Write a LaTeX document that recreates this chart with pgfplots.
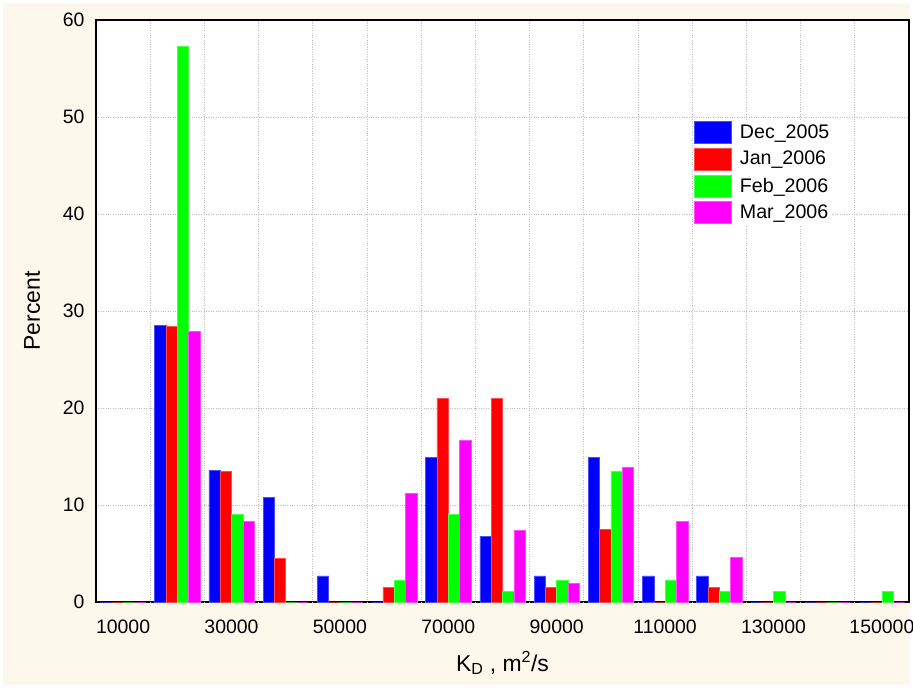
\documentclass[border=0pt]{standalone}
\usepackage{fontspec}
\setmainfont{Liberation Sans}
\usepackage{pgfplots}
\pgfplotsset{compat=1.18}
\definecolor{cream}{RGB}{253,248,236}
\definecolor{gridgray}{RGB}{190,190,190}
\definecolor{cblue}{RGB}{0,0,255}
\definecolor{cred}{RGB}{255,0,0}
\definecolor{cgreen}{RGB}{0,255,0}
\definecolor{cmag}{RGB}{255,0,255}
\begin{document}
\begin{tikzpicture}
\fill[white] (-96bp,-86bp) rectangle (817bp,602bp);
\fill[cream] (-93bp,-83bp) rectangle (814bp,599bp);
\begin{axis}[
  scale only axis,
  width=813bp, height=582bp,
  xmin=5000, xmax=155000,
  ymin=0, ymax=60,
  axis background/.style={fill=white},
  axis line style={black, line width=1.4bp},
  ybar=0pt,
  bar width=2090,
  xtick={10000,30000,50000,70000,90000,110000,130000,150000},
  xticklabels={10000,30000,50000,70000,90000,110000,130000,150000},
  major x tick style={draw=none},
  extra x ticks={15000,25000,35000,45000,55000,65000,75000,85000,95000,105000,115000,125000,135000,145000},
  extra x tick labels={},
  extra x tick style={grid=major, tick style={black, line width=1.4bp}, major tick length=5bp},
  ytick={0,10,20,30,40,50,60},
  yticklabels={0,10,20,30,40,50,60},
  ymajorgrids=true,
  major y tick style={draw=none},
  grid style={gridgray, dotted, line width=0.8bp},
  tick pos=both,
  tick align=inside,
  scaled x ticks=false,
  tick label style={font=\fontsize{19.5}{21}\selectfont},
  xticklabel style={yshift=-14bp},
  yticklabel style={xshift=-8bp},
  xlabel={K\textsubscript{D} , m\textsuperscript{2}/s},
  ylabel={Percent},
  label style={font=\fontsize{23}{25}\selectfont},
  xlabel style={at={(axis description cs:0.5,-0.1048)}, anchor=center},
  ylabel style={at={(axis description cs:-0.0787,0.5)}, anchor=center},
  legend style={at={(0.734,0.829)}, anchor=north west, draw=none, fill=white,
    font=\fontsize{19.7}{21}\selectfont, row sep=4.4bp, column sep=7bp, inner sep=1bp,
    nodes={inner sep=1.5bp}},
  legend cell align=left,
  legend image code/.code={\fill[#1] (0bp,-11bp) rectangle (37bp,11bp);},
]
\addplot[fill=cblue, draw=cblue!70!white, line width=0.5bp] coordinates {
 (10000,0) (20000,28.5) (30000,13.6) (40000,10.8) (50000,2.7) (60000,0) (70000,14.9) (80000,6.8) (90000,2.7) (100000,14.9) (110000,2.7) (120000,2.7) (130000,0) (140000,0) (150000,0)};
\addplot[fill=cred, draw=cred!70!white, line width=0.5bp] coordinates {
 (10000,0) (20000,28.4) (30000,13.5) (40000,4.5) (50000,0) (60000,1.5) (70000,21.0) (80000,21.0) (90000,1.5) (100000,7.5) (110000,0) (120000,1.5) (130000,0) (140000,0) (150000,0)};
\addplot[fill=cgreen, draw=cgreen!70!white, line width=0.5bp] coordinates {
 (10000,0) (20000,57.3) (30000,9.0) (40000,0) (50000,0) (60000,2.2) (70000,9.0) (80000,1.1) (90000,2.2) (100000,13.5) (110000,2.2) (120000,1.1) (130000,1.1) (140000,0) (150000,1.1)};
\addplot[fill=cmag, draw=cmag!70!white, line width=0.5bp] coordinates {
 (10000,0) (20000,27.9) (30000,8.3) (40000,0) (50000,0) (60000,11.2) (70000,16.7) (80000,7.4) (90000,1.9) (100000,13.9) (110000,8.3) (120000,4.6) (130000,0) (140000,0) (150000,0)};
\legend{Dec\_2005, Jan\_2006, Feb\_2006, Mar\_2006}
\end{axis}
\pgfresetboundingbox
\path (-96bp,-86bp) rectangle (817bp,602bp);
\end{tikzpicture}
\end{document}
